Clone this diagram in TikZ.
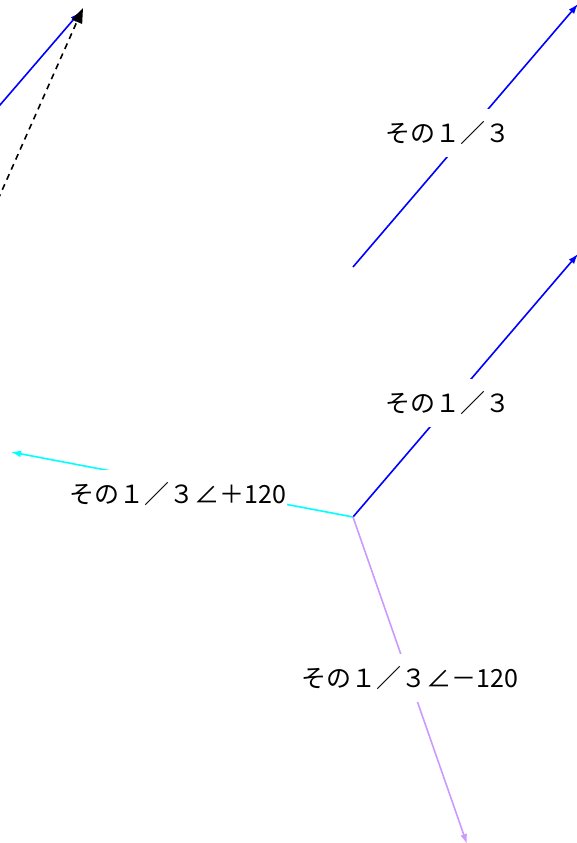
\documentclass[tikz,border=0pt]{standalone}
\usepackage{fontspec}
\setmainfont{Noto Sans CJK JP}
\usepackage{xcolor}
\definecolor{phaseblue}{HTML}{0000FF}
\definecolor{phasecyan}{HTML}{00FFFF}
\definecolor{phaselilac}{HTML}{CC99FF}
\usetikzlibrary{arrows.meta}

\begin{document}
\begin{tikzpicture}[x=1pt,y=-1pt,
  vec/.style={line width=1.6pt,-{Latex[length=10pt,width=7pt]}},
  lbl/.style={fill=white,font=\fontsize{25}{29}\selectfont,inner xsep=1pt,inner ysep=12pt}]
  \useasboundingbox (0,0) rectangle (577,843);
  \clip (0,0) rectangle (577,843);

  % Points
  \coordinate (sumtail) at (-40,151.5);
  \coordinate (sumtip) at (80,12);
  \coordinate (dashtail) at (-20,240);
  \coordinate (dashtip) at (83,8);
  \coordinate (zerotail) at (353,267);
  \coordinate (zerotip) at (578,4);
  \coordinate (origin) at (353,517);
  \coordinate (bluetip) at (578,254);
  \coordinate (cyantip) at (11,452);
  \coordinate (lilactip) at (467,844);

  % Vectors
  \draw[vec,phaseblue] (sumtail) -- (sumtip);
  \draw[black,line width=1.6pt,dash pattern=on 6pt off 5pt,-{Triangle[length=15pt,width=11pt]}] (dashtail) -- (dashtip);
  \draw[vec,phaseblue] (zerotail) -- (zerotip);
  \draw[vec,phaseblue] (origin) -- (bluetip);
  \draw[vec,phasecyan] (origin) -- (cyantip);
  \draw[vec,phaselilac] (origin) -- (lilactip);

  % Labels
  \node[lbl] (zerolabel) at (448,133) {その１／３};
  \node[lbl] (bluelabel) at (448,403) {その１／３};
  \node[lbl] (cyanlabel) at (178,494) {その１／３∠＋120};
  \node[lbl] (lilaclabel) at (410,678) {その１／３∠－120};
\end{tikzpicture}
\end{document}
